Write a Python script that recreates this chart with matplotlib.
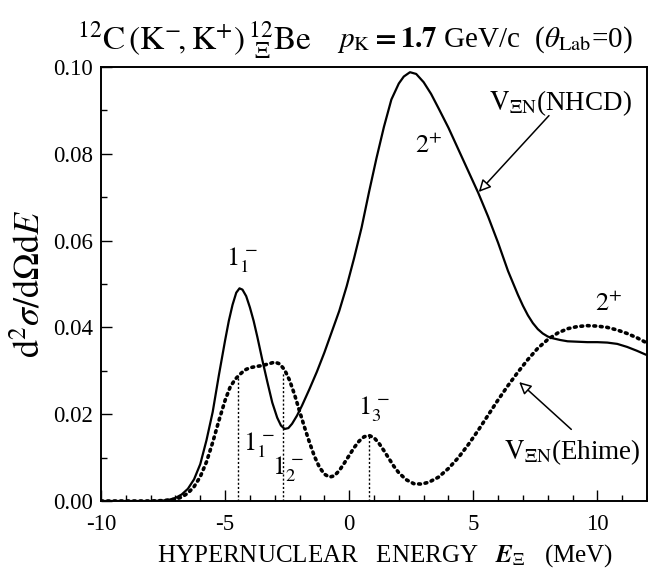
import numpy as np
import matplotlib
matplotlib.use("Agg")
import matplotlib.pyplot as plt
from matplotlib.ticker import MultipleLocator

plt.rcParams['font.family'] = ['Liberation Serif', 'DejaVu Serif']
plt.rcParams['mathtext.fontset'] = 'stix'
plt.rcParams['axes.unicode_minus'] = False

DPI = 100

# V_XiN (NHCD) - solid curve
e_nhcd = [-10.0, -8.5, -8.0, -7.5, -7.25, -7.0, -6.75, -6.5, -6.25, -6.0, -5.75, -5.5,
          -5.25, -5.0, -4.85, -4.7, -4.55, -4.42, -4.3, -4.15, -4.0, -3.85, -3.7, -3.5,
          -3.3, -3.1, -2.9, -2.75, -2.6, -2.45, -2.3, -2.1, -1.9, -1.6, -1.3, -1.0,
          -0.7, -0.4, -0.1, 0.2, 0.5, 0.8, 1.1, 1.4, 1.7, 2.0, 2.2, 2.45, 2.7, 3.0,
          3.3, 3.6, 4.0, 4.4, 4.8, 5.2, 5.6, 6.0, 6.4, 6.8, 7.0, 7.2, 7.4, 7.6, 7.8,
          8.0, 8.2, 8.5, 8.8, 9.2, 9.6, 10.0, 10.4, 10.8, 11.2, 11.6, 12.0]
xs_nhcd = [0.0, 0.0, 0.0, 0.0001, 0.0003, 0.0007, 0.0015, 0.0028, 0.0050, 0.0085, 0.0140, 0.0205,
           0.0290, 0.0370, 0.0415, 0.0452, 0.0480, 0.0490, 0.0487, 0.0472, 0.0446, 0.0415, 0.0378, 0.0325,
           0.0275, 0.0227, 0.0192, 0.0174, 0.0166, 0.0168, 0.0178, 0.0197, 0.0220, 0.0258, 0.0298, 0.0342,
           0.0390, 0.0438, 0.0495, 0.0560, 0.0630, 0.0712, 0.0790, 0.0862, 0.0925, 0.0962, 0.0978, 0.0988, 0.0984, 0.0965,
           0.0938, 0.0905, 0.0860, 0.0810, 0.0760, 0.0710, 0.0655, 0.0595, 0.0530, 0.0475, 0.0450, 0.0428, 0.0410, 0.0396, 0.0386,
           0.0379, 0.0375, 0.0371, 0.0368, 0.0367, 0.0366, 0.0366, 0.0365, 0.0362, 0.0355, 0.0346, 0.0336]

# V_XiN (Ehime) - dotted curve
e_ehime = [-10.0, -8.5, -8.0, -7.5, -7.0, -6.75, -6.5, -6.25, -6.0, -5.75, -5.5, -5.25,
           -5.0, -4.8, -4.6, -4.4, -4.2, -4.0, -3.75, -3.5, -3.25, -3.0, -2.8, -2.6,
           -2.4, -2.2, -2.0, -1.8, -1.6, -1.4, -1.2, -1.0, -0.8, -0.6, -0.4, -0.2,
           0.0, 0.2, 0.4, 0.6, 0.8, 1.0, 1.2, 1.4, 1.6, 1.8, 2.0, 2.3, 2.6, 2.9,
           3.2, 3.6, 4.0, 4.4, 4.8, 5.2, 5.6, 6.0, 6.4, 6.8, 7.2, 7.6, 8.0, 8.4,
           8.8, 9.2, 9.6, 10.0, 10.4, 10.8, 11.2, 11.6, 12.0]
xs_ehime = [0.0, 0.0, 0.0, 0.0001, 0.0004, 0.0009, 0.0018, 0.0033, 0.0056, 0.0090, 0.0135, 0.0185,
            0.0232, 0.0262, 0.0280, 0.0292, 0.0302, 0.0307, 0.0310, 0.0312, 0.0316, 0.0320, 0.0316, 0.0302,
            0.0278, 0.0245, 0.0207, 0.0170, 0.0135, 0.0103, 0.0078, 0.0062, 0.0055, 0.0058, 0.0070, 0.0087,
            0.0105, 0.0123, 0.0138, 0.0148, 0.0151, 0.0146, 0.0133, 0.0116, 0.0098, 0.0080, 0.0065, 0.0049, 0.0040, 0.0039,
            0.0043, 0.0055, 0.0075, 0.0100, 0.0130, 0.0163, 0.0198, 0.0233, 0.0266, 0.0297, 0.0326, 0.0352, 0.0372, 0.0387,
            0.0397, 0.0402, 0.0404, 0.0403, 0.0400, 0.0394, 0.0386, 0.0376, 0.0364]

# state positions (dotted stems) for Ehime
stem_e = [-4.5, -2.65, 0.78]
stem_top = [0.0285, 0.0298, 0.0151]

fig = plt.figure(figsize=(648/DPI, 578/DPI), dpi=DPI)
ax = fig.add_axes([101/648, 77/578, 546/648, 434/578])

ax.plot(e_nhcd, xs_nhcd, color='black', lw=1.6, solid_joinstyle='round')
ax.plot(e_ehime, xs_ehime, color='black', lw=2.6, linestyle=(0, (0.5, 1.3)),
        dash_capstyle='round')
ax.vlines(stem_e, 0, stem_top, colors='black', lw=1.0, linestyles=(0, (1.5, 1.5)))

ax.set_xlim(-10, 12)
ax.set_ylim(0, 0.10)
ax.xaxis.set_major_locator(MultipleLocator(5))
ax.xaxis.set_minor_locator(MultipleLocator(1))
ax.yaxis.set_major_locator(MultipleLocator(0.02))
ax.yaxis.set_minor_locator(MultipleLocator(0.01))
ax.yaxis.set_major_formatter(plt.FormatStrFormatter('%.2f'))
ax.tick_params(which='both', direction='in', top=False, right=False,
               labelsize=16.5, width=1.0)
ax.tick_params(axis='x', pad=9)
ax.tick_params(axis='y', pad=6)
ax.tick_params(which='major', length=8)
ax.tick_params(which='minor', length=4.5)
for s in ax.spines.values():
    s.set_linewidth(1.4)

ax.set_xlabel(r"HYPERNUCLEAR   ENERGY   $\mathbfit{E}_{\Xi}$   (MeV)", fontsize=18)
ax.xaxis.set_label_coords(0.52, -0.095)
ax.set_ylabel(r"$\mathrm{d}^2\sigma/\mathrm{d}\Omega\mathrm{d}E$", fontsize=26, labelpad=4)

# title pieces
fig.text(77/648, 1 - 50/578,
         r"${}^{12}\mathrm{C}\,(\mathrm{K}^{-}\!,\mathrm{K}^{+})\,{}^{12}_{\ \Xi}\mathrm{Be}$",
         fontsize=24, ha='left', va='baseline')
fig.text(337/648, 1 - 47/578,
         r"$\mathit{p}_{\mathrm{K}}\mathbf{=1.7}$ GeV/c  ($\mathit{\theta}_{\mathrm{Lab}}$=0)",
         fontsize=21, ha='left', va='baseline')

# state labels
lab_kw = dict(fontsize=19, ha='center', va='center')
ax.text(-4.3, 0.0555, r"$1_1^{\,-}$", **lab_kw)
ax.text(-3.65, 0.0128, r"$1_1^{\,-}$", **lab_kw)
ax.text(-2.45, 0.0072, r"$1_2^{\,-}$", **lab_kw)
ax.text(1.0, 0.0212, r"$1_3^{\,-}$", **lab_kw)
ax.text(3.2, 0.0818, r"$2^{+}$", **lab_kw)
ax.text(10.45, 0.0455, r"$2^{+}$", **lab_kw)

arrow = dict(arrowstyle='-|>', fc='white', ec='black', lw=1.1, mutation_scale=18,
             shrinkA=0, shrinkB=0)
ax.text(8.5, 0.0917, r"$\mathrm{V}_{\Xi\mathrm{N}}$(NHCD)", fontsize=19.5,
        ha='center', va='center')
ax.annotate("", xy=(5.22, 0.0712), xytext=(8.05, 0.0888), arrowprops=arrow)
ax.text(9.0, 0.0113, r"$\mathrm{V}_{\Xi\mathrm{N}}$(Ehime)", fontsize=19.5,
        ha='center', va='center')
ax.annotate("", xy=(6.85, 0.0274), xytext=(8.95, 0.0165), arrowprops=arrow)

plt.savefig('out.png', dpi=DPI)
